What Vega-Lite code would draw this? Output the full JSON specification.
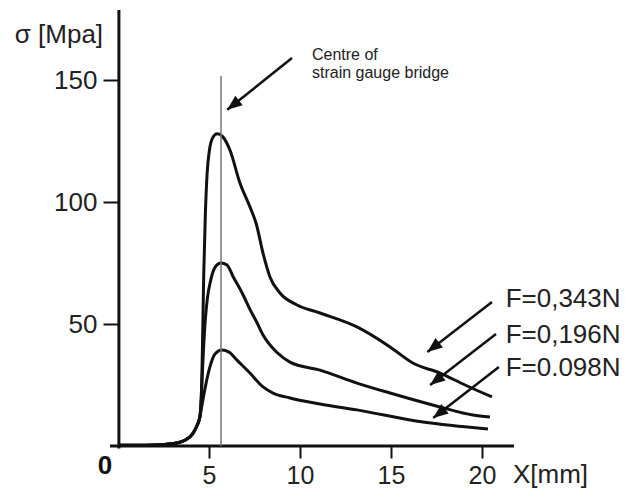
{
  "$schema": "https://vega.github.io/schema/vega-lite/v6.json",
  "autosize": {"type": "none"},
  "width": 396,
  "height": 436,
  "padding": {"left": 118, "top": 10, "right": 115, "bottom": 46},
  "background": "white",
  "config": {"view": {"stroke": null}, "font": "Liberation Sans"},
  "datasets": {
    "curves": [
      {"series": "F=0,343N", "x": 0, "y": 0.3},
      {"series": "F=0,343N", "x": 1.5, "y": 0.35},
      {"series": "F=0,343N", "x": 2.5, "y": 0.6},
      {"series": "F=0,343N", "x": 3.2, "y": 1.2},
      {"series": "F=0,343N", "x": 3.7, "y": 2.5},
      {"series": "F=0,343N", "x": 4.1, "y": 5},
      {"series": "F=0,343N", "x": 4.35, "y": 8.5},
      {"series": "F=0,343N", "x": 4.5, "y": 12},
      {"series": "F=0,343N", "x": 4.58, "y": 20},
      {"series": "F=0,343N", "x": 4.64, "y": 40},
      {"series": "F=0,343N", "x": 4.71, "y": 70},
      {"series": "F=0,343N", "x": 4.8, "y": 95},
      {"series": "F=0,343N", "x": 4.9, "y": 112},
      {"series": "F=0,343N", "x": 5.03, "y": 121.5},
      {"series": "F=0,343N", "x": 5.2, "y": 126.3},
      {"series": "F=0,343N", "x": 5.45, "y": 128},
      {"series": "F=0,343N", "x": 5.75, "y": 126.8},
      {"series": "F=0,343N", "x": 6.15, "y": 121.3},
      {"series": "F=0,343N", "x": 6.7, "y": 107.8},
      {"series": "F=0,343N", "x": 7.25, "y": 98},
      {"series": "F=0,343N", "x": 7.6, "y": 91},
      {"series": "F=0,343N", "x": 7.97, "y": 79},
      {"series": "F=0,343N", "x": 8.35, "y": 69.3},
      {"series": "F=0,343N", "x": 8.9, "y": 62.7},
      {"series": "F=0,343N", "x": 9.84, "y": 57.8},
      {"series": "F=0,343N", "x": 11.1, "y": 54.5},
      {"series": "F=0,343N", "x": 13.13, "y": 48.8},
      {"series": "F=0,343N", "x": 14.95, "y": 40.6},
      {"series": "F=0,343N", "x": 16.2, "y": 34},
      {"series": "F=0,343N", "x": 17.7, "y": 29.9},
      {"series": "F=0,343N", "x": 19.07, "y": 25},
      {"series": "F=0,343N", "x": 20.55, "y": 20.1},
      {"series": "F=0,196N", "x": 0, "y": 0.3},
      {"series": "F=0,196N", "x": 1.5, "y": 0.35},
      {"series": "F=0,196N", "x": 2.5, "y": 0.6},
      {"series": "F=0,196N", "x": 3.2, "y": 1.2},
      {"series": "F=0,196N", "x": 3.7, "y": 2.5},
      {"series": "F=0,196N", "x": 4.1, "y": 5},
      {"series": "F=0,196N", "x": 4.35, "y": 8.5},
      {"series": "F=0,196N", "x": 4.5, "y": 12},
      {"series": "F=0,196N", "x": 4.6, "y": 24},
      {"series": "F=0,196N", "x": 4.7, "y": 40},
      {"series": "F=0,196N", "x": 4.8, "y": 52},
      {"series": "F=0,196N", "x": 4.92, "y": 61},
      {"series": "F=0,196N", "x": 5.08, "y": 67.5},
      {"series": "F=0,196N", "x": 5.33, "y": 73.2},
      {"series": "F=0,196N", "x": 5.66, "y": 75},
      {"series": "F=0,196N", "x": 5.99, "y": 74.2},
      {"series": "F=0,196N", "x": 6.32, "y": 69.5},
      {"series": "F=0,196N", "x": 6.87, "y": 62},
      {"series": "F=0,196N", "x": 7.25, "y": 56},
      {"series": "F=0,196N", "x": 7.64, "y": 50.5},
      {"series": "F=0,196N", "x": 7.97, "y": 45.5},
      {"series": "F=0,196N", "x": 8.74, "y": 38.3},
      {"series": "F=0,196N", "x": 9.45, "y": 34.4},
      {"series": "F=0,196N", "x": 11.1, "y": 31.1},
      {"series": "F=0,196N", "x": 13.13, "y": 25.8},
      {"series": "F=0,196N", "x": 14.95, "y": 21.7},
      {"series": "F=0,196N", "x": 17.69, "y": 16},
      {"series": "F=0,196N", "x": 19.5, "y": 12.7},
      {"series": "F=0,196N", "x": 20.44, "y": 11.9},
      {"series": "F=0.098N", "x": 0, "y": 0.3},
      {"series": "F=0.098N", "x": 1.5, "y": 0.35},
      {"series": "F=0.098N", "x": 2.5, "y": 0.6},
      {"series": "F=0.098N", "x": 3.2, "y": 1.2},
      {"series": "F=0.098N", "x": 3.7, "y": 2.5},
      {"series": "F=0.098N", "x": 4.1, "y": 5},
      {"series": "F=0.098N", "x": 4.35, "y": 8.5},
      {"series": "F=0.098N", "x": 4.5, "y": 12},
      {"series": "F=0.098N", "x": 4.62, "y": 17},
      {"series": "F=0.098N", "x": 4.78, "y": 23.5},
      {"series": "F=0.098N", "x": 5.05, "y": 32.4},
      {"series": "F=0.098N", "x": 5.33, "y": 37.7},
      {"series": "F=0.098N", "x": 5.71, "y": 39.3},
      {"series": "F=0.098N", "x": 6.1, "y": 38.5},
      {"series": "F=0.098N", "x": 6.54, "y": 35.2},
      {"series": "F=0.098N", "x": 7.25, "y": 29.9},
      {"series": "F=0.098N", "x": 7.97, "y": 24.2},
      {"series": "F=0.098N", "x": 8.52, "y": 21.7},
      {"series": "F=0.098N", "x": 9.45, "y": 19.7},
      {"series": "F=0.098N", "x": 11.1, "y": 17.2},
      {"series": "F=0.098N", "x": 13.13, "y": 14.8},
      {"series": "F=0.098N", "x": 16.76, "y": 9.8},
      {"series": "F=0.098N", "x": 20.33, "y": 7}
    ],
    "axislines": [
      {"name": "x axis", "x": -0.44, "x2": 21.76, "y": 0, "y2": 0},
      {"name": "y axis", "x": 0.05, "x2": 0.05, "y": -1, "y2": 178.7}
    ],
    "gauge": [
      {"name": "Centre of strain gauge bridge", "x": 5.66, "x2": 5.66, "y": 0, "y2": 151.6}
    ],
    "arrows": [
      {"target": "gauge", "x": 9.56, "y": 159.0, "x2": 6.0, "y2": 137.8},
      {"target": "F=0,343N", "x": 20.55, "y": 59.0, "x2": 17.0, "y2": 38.5},
      {"target": "F=0,196N", "x": 20.77, "y": 45.9, "x2": 17.15, "y2": 25.0},
      {"target": "F=0.098N", "x": 20.93, "y": 32.4, "x2": 17.32, "y2": 11.5}
    ],
    "flabels": [
      {"text": "F=0,343N", "x": 21.3, "y": 60.2},
      {"text": "F=0,196N", "x": 21.3, "y": 45.5},
      {"text": "F=0.098N", "x": 21.3, "y": 32.0}
    ],
    "note": [
      {"text": "Centre of", "x": 10.66, "y": 160.2},
      {"text": "strain gauge bridge", "x": 10.66, "y": 152.9}
    ],
    "ytitle": [{"text": "σ [Mpa]", "x": -0.82, "y": 168.4}],
    "xtitle": [{"text": "X[mm]", "x": 21.7, "y": -12.0}],
    "origin": [{"text": "0", "x": -0.71, "y": -8.2}]
  },
  "encoding": {
    "x": {
      "field": "x", "type": "quantitative",
      "scale": {"domain": [0, 21.76], "nice": false, "zero": false},
      "axis": {
        "values": [5, 10, 15, 20], "title": null, "grid": false, "domain": false,
        "tickSize": 12, "tickWidth": 2, "tickColor": "#111111",
        "labelFontSize": 25, "labelFont": "Liberation Sans", "labelColor": "#222222",
        "labelPadding": 5, "labelFlush": false, "labelOverlap": false
      }
    },
    "y": {
      "field": "y", "type": "quantitative",
      "scale": {"domain": [0, 178.7], "nice": false, "zero": false},
      "axis": {
        "values": [50, 100, 150], "title": null, "grid": false, "domain": false,
        "tickSize": 15, "tickWidth": 2, "tickColor": "#111111",
        "labelFontSize": 26, "labelFont": "Liberation Sans", "labelColor": "#222222",
        "labelPadding": 6, "labelFlush": false, "labelOverlap": false
      }
    }
  },
  "layer": [
    {
      "data": {"name": "curves"},
      "mark": {"type": "line", "color": "#111111", "strokeWidth": 3, "interpolate": "monotone"},
      "encoding": {
        "detail": {"field": "series", "type": "nominal"}
      }
    },
    {
      "data": {"name": "axislines"},
      "mark": {"type": "rule", "color": "#111111", "strokeWidth": 3},
      "encoding": {
        "x2": {"field": "x2"},
        "y2": {"field": "y2"}
      }
    },
    {
      "data": {"name": "gauge"},
      "mark": {"type": "rule", "color": "#777777", "strokeWidth": 1.5},
      "encoding": {
        "x2": {"field": "x2"},
        "y2": {"field": "y2"}
      }
    },
    {
      "data": {"name": "arrows"},
      "mark": {"type": "rule", "color": "#111111", "strokeWidth": 2.5},
      "encoding": {
        "x2": {"field": "x2"},
        "y2": {"field": "y2"}
      }
    },
    {
      "data": {"name": "arrows"},
      "mark": {"type": "point", "shape": "M0,0L0.8,2L-0.8,2Z", "filled": true, "color": "#111111", "opacity": 1, "size": 225, "angle": 232, "strokeWidth": 0},
      "encoding": {
        "x": {"field": "x2", "type": "quantitative"},
        "y": {"field": "y2", "type": "quantitative"}
      }
    },
    {
      "data": {"name": "flabels"},
      "mark": {"type": "text", "fontSize": 26, "align": "left", "baseline": "middle", "color": "#222222", "font": "Liberation Sans"},
      "encoding": {"text": {"field": "text"}}
    },
    {
      "data": {"name": "note"},
      "mark": {"type": "text", "fontSize": 16, "align": "left", "baseline": "middle", "color": "#222222", "font": "Liberation Sans"},
      "encoding": {"text": {"field": "text"}}
    },
    {
      "data": {"name": "ytitle"},
      "mark": {"type": "text", "fontSize": 26, "align": "right", "baseline": "middle", "color": "#222222", "font": "Liberation Sans"},
      "encoding": {"text": {"field": "text"}}
    },
    {
      "data": {"name": "xtitle"},
      "mark": {"type": "text", "fontSize": 26, "align": "left", "baseline": "middle", "color": "#222222", "font": "Liberation Sans"},
      "encoding": {"text": {"field": "text"}}
    },
    {
      "data": {"name": "origin"},
      "mark": {"type": "text", "fontSize": 26, "fontWeight": "bold", "align": "center", "baseline": "middle", "color": "#111111", "font": "Liberation Sans"},
      "encoding": {"text": {"field": "text"}}
    }
  ]
}
